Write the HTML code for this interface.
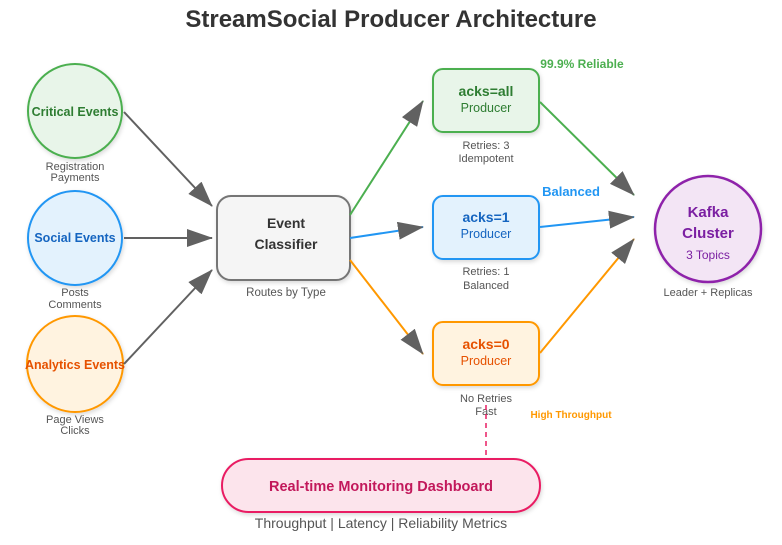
<!DOCTYPE html>
<html><head><meta charset="utf-8"><style>
html,body{margin:0;padding:0;background:#fff;}
svg{display:block;font-family:"Liberation Sans",Arial,sans-serif;}
</style></head><body>
<svg width="782" height="545" viewBox="0 0 782 545" xmlns="http://www.w3.org/2000/svg">
<defs>
<marker id="ag" viewBox="0 0 26 18" markerWidth="26" markerHeight="18" refX="25" refY="9" orient="auto" markerUnits="userSpaceOnUse"><polygon points="0,0 26,9 0,18" fill="#616161"/></marker>
<filter id="sh" x="-20%" y="-20%" width="140%" height="140%"><feDropShadow dx="1" dy="2" stdDeviation="2" flood-opacity="0.15"/></filter>
</defs>
<text x="391" y="27" text-anchor="middle" font-size="24" font-weight="bold" fill="#333">StreamSocial Producer Architecture</text>

<circle cx="75" cy="111" r="47" fill="#e8f5e9" stroke="#4caf50" stroke-width="2" filter="url(#sh)"/>
<text x="75" y="116" text-anchor="middle" font-size="12.5" font-weight="bold" fill="#2e7d32">Critical Events</text>
<text x="75" y="170" text-anchor="middle" font-size="11" fill="#555">Registration</text>
<text x="75" y="181" text-anchor="middle" font-size="11" fill="#555">Payments</text>

<circle cx="75" cy="238" r="47" fill="#e3f2fd" stroke="#2196f3" stroke-width="2" filter="url(#sh)"/>
<text x="75" y="242" text-anchor="middle" font-size="12.5" font-weight="bold" fill="#1565c0">Social Events</text>
<text x="75" y="296" text-anchor="middle" font-size="11" fill="#555">Posts</text>
<text x="75" y="308" text-anchor="middle" font-size="11" fill="#555">Comments</text>

<circle cx="75" cy="364" r="48" fill="#fff3e0" stroke="#ff9800" stroke-width="2" filter="url(#sh)"/>
<text x="75" y="369" text-anchor="middle" font-size="12.5" font-weight="bold" fill="#e65100">Analytics Events</text>
<text x="75" y="423" text-anchor="middle" font-size="11" fill="#555">Page Views</text>
<text x="75" y="434" text-anchor="middle" font-size="11" fill="#555">Clicks</text>

<line x1="124" y1="112" x2="212" y2="206" stroke="#616161" stroke-width="2" marker-end="url(#ag)"/>
<line x1="124" y1="238" x2="212" y2="238" stroke="#616161" stroke-width="2" marker-end="url(#ag)"/>
<line x1="124" y1="364" x2="212" y2="270" stroke="#616161" stroke-width="2" marker-end="url(#ag)"/>

<rect x="217" y="196" width="133" height="84" rx="14" fill="#f5f5f5" stroke="#757575" stroke-width="2" filter="url(#sh)"/>
<text x="286" y="228" text-anchor="middle" font-size="14" font-weight="bold" fill="#333">Event</text>
<text x="286" y="249" text-anchor="middle" font-size="14" font-weight="bold" fill="#333">Classifier</text>
<text x="286" y="296" text-anchor="middle" font-size="11.5" fill="#555">Routes by Type</text>

<line x1="350" y1="215" x2="423" y2="101" stroke="#4caf50" stroke-width="2" marker-end="url(#ag)"/>
<line x1="350" y1="238" x2="423" y2="227" stroke="#2196f3" stroke-width="2" marker-end="url(#ag)"/>
<line x1="350" y1="260" x2="423" y2="354" stroke="#ff9800" stroke-width="2" marker-end="url(#ag)"/>

<rect x="433" y="69" width="106" height="63" rx="10" fill="#e8f5e9" stroke="#4caf50" stroke-width="2" filter="url(#sh)"/>
<text x="486" y="96" text-anchor="middle" font-size="14" font-weight="bold" fill="#2e7d32">acks=all</text>
<text x="486" y="112" text-anchor="middle" font-size="12.5" fill="#2e7d32">Producer</text>
<text x="486" y="149" text-anchor="middle" font-size="11" fill="#555">Retries: 3</text>
<text x="486" y="162" text-anchor="middle" font-size="11" fill="#555">Idempotent</text>
<text x="582" y="68" text-anchor="middle" font-size="12" font-weight="bold" fill="#4caf50">99.9% Reliable</text>

<rect x="433" y="196" width="106" height="63" rx="10" fill="#e3f2fd" stroke="#2196f3" stroke-width="2" filter="url(#sh)"/>
<text x="486" y="222" text-anchor="middle" font-size="14" font-weight="bold" fill="#1565c0">acks=1</text>
<text x="486" y="238" text-anchor="middle" font-size="12.5" fill="#1565c0">Producer</text>
<text x="486" y="275" text-anchor="middle" font-size="11" fill="#555">Retries: 1</text>
<text x="486" y="289" text-anchor="middle" font-size="11" fill="#555">Balanced</text>
<text x="571" y="196" text-anchor="middle" font-size="13" font-weight="bold" fill="#2196f3">Balanced</text>

<rect x="433" y="322" width="106" height="63" rx="10" fill="#fff3e0" stroke="#ff9800" stroke-width="2" filter="url(#sh)"/>
<text x="486" y="349" text-anchor="middle" font-size="14" font-weight="bold" fill="#e65100">acks=0</text>
<text x="486" y="365" text-anchor="middle" font-size="12.5" fill="#e65100">Producer</text>
<text x="486" y="402" text-anchor="middle" font-size="11" fill="#555">No Retries</text>
<text x="486" y="415" text-anchor="middle" font-size="11" fill="#555">Fast</text>
<text x="571" y="418" text-anchor="middle" font-size="10" font-weight="bold" fill="#ff9800">High Throughput</text>

<line x1="540" y1="102" x2="634" y2="195" stroke="#4caf50" stroke-width="2" marker-end="url(#ag)"/>
<line x1="540" y1="227" x2="634" y2="217" stroke="#2196f3" stroke-width="2" marker-end="url(#ag)"/>
<line x1="540" y1="353" x2="634" y2="239" stroke="#ff9800" stroke-width="2" marker-end="url(#ag)"/>

<circle cx="708" cy="229" r="53" fill="#f3e5f5" stroke="#8e24aa" stroke-width="2.5" filter="url(#sh)"/>
<text x="708" y="217" text-anchor="middle" font-size="15" font-weight="bold" fill="#7b1fa2">Kafka</text>
<text x="708" y="238" text-anchor="middle" font-size="15" font-weight="bold" fill="#7b1fa2">Cluster</text>
<text x="708" y="259" text-anchor="middle" font-size="12" fill="#7b1fa2">3 Topics</text>
<text x="708" y="296" text-anchor="middle" font-size="11" fill="#555">Leader + Replicas</text>

<line x1="486" y1="405" x2="486" y2="458" stroke="#e91e63" stroke-width="1.5" stroke-dasharray="5,4"/>
<rect x="222" y="459" width="318" height="53" rx="26.5" fill="#fce4ec" stroke="#e91e63" stroke-width="2" filter="url(#sh)"/>
<text x="381" y="491" text-anchor="middle" font-size="14.5" font-weight="bold" fill="#c2185b">Real-time Monitoring Dashboard</text>
<text x="381" y="528" text-anchor="middle" font-size="14" fill="#555">Throughput | Latency | Reliability Metrics</text>
</svg>
</body></html>
